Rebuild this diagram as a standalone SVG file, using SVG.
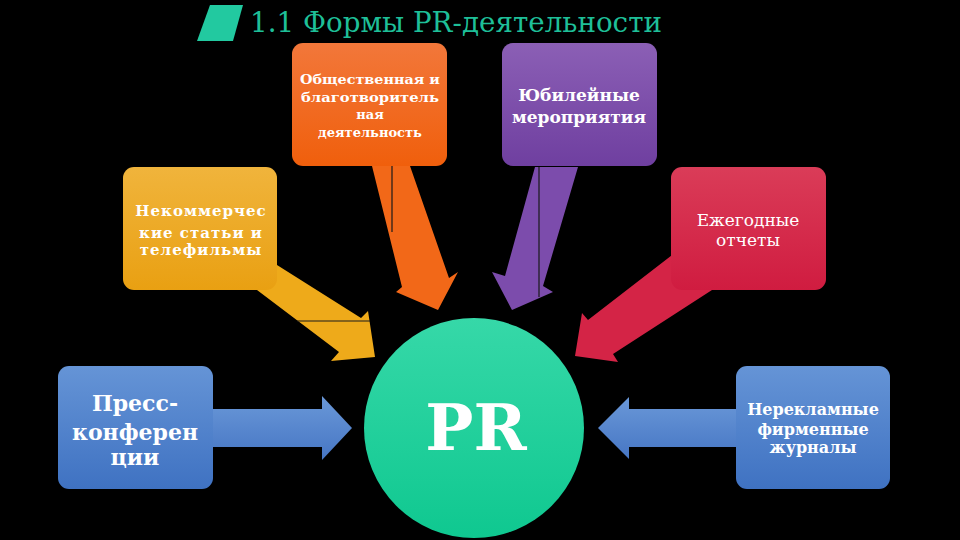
<svg xmlns="http://www.w3.org/2000/svg" width="960" height="540" viewBox="0 0 960 540">
<defs>
<linearGradient id="gOr" x1="0" y1="0" x2="0" y2="1"><stop offset="0" stop-color="#f2773a"/><stop offset="1" stop-color="#f05f0c"/></linearGradient>
<linearGradient id="gPu" x1="0" y1="0" x2="0" y2="1"><stop offset="0" stop-color="#8b5fb5"/><stop offset="1" stop-color="#6f3fa0"/></linearGradient>
<linearGradient id="gYe" x1="0" y1="0" x2="0" y2="1"><stop offset="0" stop-color="#f0b43c"/><stop offset="1" stop-color="#e9a012"/></linearGradient>
<linearGradient id="gRe" x1="0" y1="0" x2="0" y2="1"><stop offset="0" stop-color="#da3c58"/><stop offset="1" stop-color="#d01c40"/></linearGradient>
<linearGradient id="gBl" x1="0" y1="0" x2="0" y2="1"><stop offset="0" stop-color="#6594d6"/><stop offset="1" stop-color="#3f72c2"/></linearGradient>
<linearGradient id="gGr" x1="0" y1="0" x2="0" y2="1"><stop offset="0" stop-color="#36d8a8"/><stop offset="1" stop-color="#0fc890"/></linearGradient>
<linearGradient id="gBlA" x1="0" y1="0" x2="0" y2="1"><stop offset="0" stop-color="#6a98d8"/><stop offset="1" stop-color="#4676c4"/></linearGradient>
</defs>
<style>
.box{stroke:none}
.t{font-family:"DejaVu Serif","Liberation Serif",serif;fill:#ffffff;text-anchor:middle}
.b{font-weight:bold}
.seam{stroke:#1a1a1a;stroke-width:1.2;fill:none}
</style>
<rect width="960" height="540" fill="#000000"/>
<g id="title">
<polygon points="210,5 243,5 233,41 197,41" fill="#22c9a0"/>
<text x="250" y="32" font-family="DejaVu Serif, Liberation Serif, serif" font-size="27" fill="#1ebf98" textLength="412" lengthAdjust="spacingAndGlyphs">1.1 Формы PR-деятельности</text>
</g>
<g id="connectors">
<polygon points="213,409 322,409 322,396 352,428 322,460 322,447 213,447" fill="url(#gBlA)"/>
<polygon points="736,409 629,409 629,397 598,428 629,459 629,447 736,447" fill="url(#gBlA)"/>
<polygon points="277,265 361,318 368,311 375,357 331,361 339,352 257,290" fill="#eeaa1a"/>
<line class="seam" x1="297" y1="321" x2="370" y2="321"/>
<polygon points="372,166 410,166 449,278 458,272 438,310 396,292 402,287" fill="#f26818"/>
<line class="seam" x1="392" y1="166" x2="392" y2="232"/>
<polygon points="535,167 578,167 543,286 553,292 512,310 492,272 505,276" fill="#7c4cac"/>
<line class="seam" x1="539" y1="167" x2="539" y2="297"/>
<polygon points="676,252 712,290 613,354 618,362 575,356 582,313 588,320" fill="#d42446"/>
</g>
<g id="node-orange">
<rect class="box" x="292" y="43" width="155" height="123" rx="11" fill="url(#gOr)"/>
<text class="t b" font-size="13" x="370" y="84" textLength="140" lengthAdjust="spacingAndGlyphs">Общественная и</text>
<text class="t b" font-size="13" x="370" y="102" textLength="138" lengthAdjust="spacingAndGlyphs">благотворитель</text>
<text class="t b" font-size="13" x="370" y="119">ная</text>
<text class="t b" font-size="13" x="370" y="137">деятельность</text>
</g>
<g id="node-purple">
<rect class="box" x="502" y="43" width="155" height="123" rx="11" fill="url(#gPu)"/>
<text class="t b" font-size="17" x="579" y="101">Юбилейные</text>
<text class="t b" font-size="17" x="579" y="123">мероприятия</text>
</g>
<g id="node-yellow">
<rect class="box" x="123" y="167" width="154" height="123" rx="11" fill="url(#gYe)"/>
<text class="t b" font-size="15" x="201" y="216" letter-spacing="1">Некоммерчес</text>
<text class="t b" font-size="15" x="201" y="238" letter-spacing="1">кие статьи и</text>
<text class="t b" font-size="15" x="201" y="255" letter-spacing="1">телефильмы</text>
</g>
<g id="node-red">
<rect class="box" x="671" y="167" width="155" height="123" rx="11" fill="url(#gRe)"/>
<text class="t" font-size="17" x="748" y="226">Ежегодные</text>
<text class="t" font-size="17" x="748" y="246">отчеты</text>
</g>
<g id="node-press">
<rect class="box" x="58" y="366" width="155" height="123" rx="11" fill="url(#gBl)"/>
<text class="t b" font-size="22" x="135" y="411">Пресс-</text>
<text class="t b" font-size="22" x="135" y="440">конферен</text>
<text class="t b" font-size="22" x="135" y="465">ции</text>
</g>
<g id="node-journals">
<rect class="box" x="736" y="366" width="154" height="123" rx="11" fill="url(#gBl)"/>
<text class="t b" font-size="16" x="813" y="415">Нерекламные</text>
<text class="t b" font-size="16" x="813" y="435">фирменные</text>
<text class="t b" font-size="16" x="813" y="453">журналы</text>
</g>
<g id="node-pr">
<circle cx="474" cy="428" r="110" fill="url(#gGr)"/>
<text class="t b" font-size="64" x="476" y="450">PR</text>
</g>
</svg>
